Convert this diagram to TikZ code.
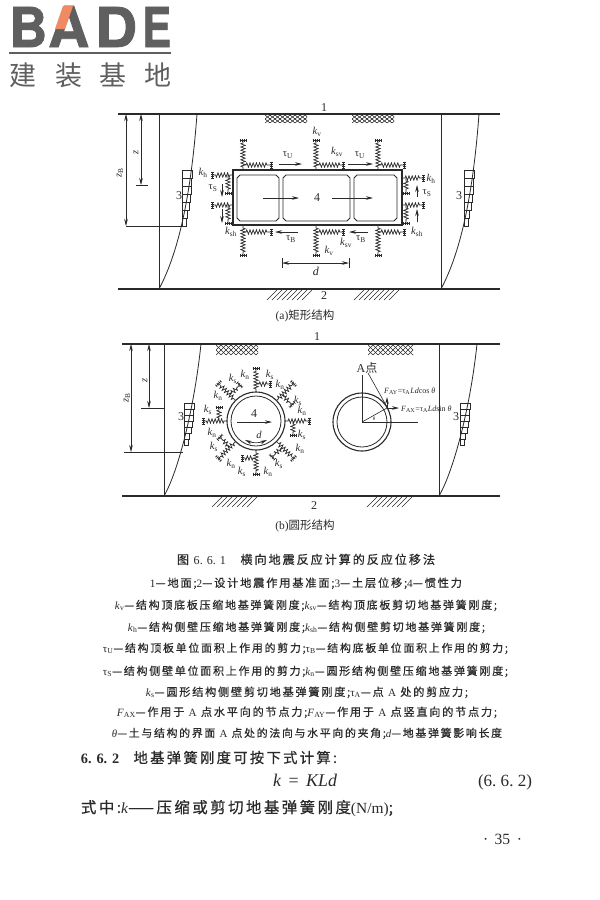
\documentclass[tikz,border=0pt]{standalone}
\usepackage{fontspec}
\usepackage{graphicx}
\setmainfont{Liberation Serif}
\newfontfamily\cjk[LetterSpace=16,RawFeature={embolden=0.6}]{Noto Sans CJK SC}
\newfontfamily\cjkplain{Noto Sans CJK SC}
\newfontfamily\logofont[FakeBold=1.5]{TeX Gyre Heros}
\usetikzlibrary{decorations.pathmorphing,arrows.meta,calc}
\newcommand\Lt[1]{{\rmfamily #1}}
\newcommand\Kk[1]{{\rmfamily\textit{k}\textsubscript{#1}}}
\newcommand\Tu[1]{{\rmfamily τ\textsubscript{#1}}}
\newcommand\It[1]{{\rmfamily\textit{#1}}}
\tikzset{
  ink/.style={draw=inkc,line width=.8pt},
  strong/.style={draw=inkc,line width=1.2pt},
  springline/.style={draw=inkc,line width=.7pt,decorate,decoration={zigzag,segment length=3.2pt,amplitude=2.2pt,pre length=3pt,post length=3pt}},
  barline/.style={draw=inkc,line width=.7pt},
  tickline/.style={draw=inkc,line width=3pt,dash pattern=on .6pt off 1.6pt},
  flow/.style={draw=inkc,line width=.6pt,-{Stealth[length=7pt,width=3.5pt]}},
  dim/.style={draw=inkc,line width=.6pt,{Stealth[length=7pt,width=3.5pt]}-{Stealth[length=7pt,width=3.5pt]}},
  lab/.style={inner sep=0pt,font=\fontsize{10.5}{11}\selectfont,text=inkc},
  num/.style={inner sep=0pt,font=\fontsize{12}{13}\selectfont,text=inkc},
  logoline/.style={draw=logoc,line width=2.5pt},
}
\definecolor{inkc}{HTML}{2A2A2A}
\definecolor{logoc}{HTML}{5F5F5F}
\definecolor{logoo}{HTML}{F08A63}
% spring: start x, start y, angle, length
\newcommand\Spr[4]{\begin{scope}[shift={(#1,#2)},rotate=#3]
  \draw[springline] (0,0) -- (#4,0);
  \draw[barline] (#4,-3.5) -- (#4,3.5);
  \draw[tickline] (#4,-3.5) -- (#4,3.5);
\end{scope}}
\newcommand\Room[4]{\draw[ink] (#1+3,#2) -- (#3-3,#2) -- (#3,#2+3) -- (#3,#4-3) -- (#3-3,#4) -- (#1+3,#4) -- (#1,#4-3) -- (#1,#2+3) -- cycle;}
\newcommand\Cross[4]{\begin{scope}\clip (#1,#2) rectangle (#3,#4);
  \foreach \q in {0,5,...,70}{\draw[inkc,line width=.55pt] (#1+\q-10,#4) -- (#1+\q,#2); \draw[inkc,line width=.55pt] (#1+\q-10,#2) -- (#1+\q,#4);}
\end{scope}}
\newcommand\Slash[3]{\foreach \q in {0,5,...,35}{\draw[inkc,line width=.6pt] (#1+\q,#3) -- (#1+\q+10,#2);}}
\newcommand\Soil[4]{\draw[ink] (#1,#2) .. controls (#1+16,#2-30) and (#1+31,#2-80) .. (#4,#3);}
\newcommand\Ln[6]{\node[anchor=base,inner sep=0pt,text=inkc] (#1) at ({(#3+#4)/2},#2) {\resizebox{\dimexpr #4pt-#3pt\relax}{!}{#6}};}
% staircase: x left, y top, row height
\newcommand\Stairs[3]{\foreach \ww [count=\i from 0] in {10,9.5,9,8,7,5.5,4}{
  \draw[inkc,line width=.6pt] (#1,#2+\i*#3) rectangle (#1+\ww,#2+\i*#3+#3);}}
\begin{document}
\begin{tikzpicture}[x=1pt,y=-1pt]
\useasboundingbox (0,0) rectangle (600,900);
\fill[white] (0,0) rectangle (600,900);
% ---- logo
\node[anchor=base west,inner sep=0pt,text=logoc] (logoB) at (9,47) {\resizebox{38pt}{40pt}{\logofont\bfseries B}};
\node[anchor=base west,inner sep=0pt,text=logoc] (logoA) at (48,47) {\resizebox{41pt}{41pt}{\logofont\bfseries A}};
\node[anchor=base west,inner sep=0pt,text=logoc] (logoD) at (95,47) {\resizebox{42pt}{40pt}{\logofont\bfseries D}};
\node[anchor=base west,inner sep=0pt,text=logoc] (logoE) at (142,47) {\resizebox{29pt}{40pt}{\logofont\bfseries E}};
\fill[logoo] (63,6) -- (73,6) -- (65,29) -- (55,29) -- cycle;
\draw[logoline] (9,53) -- (171,53);
\foreach \nm/\xx/\ch in {la/23/建,lb/69/装,lc/113/基,ld/158/地}{
  \node[inner sep=0pt,text=logoc] (\nm) at (\xx,75) {\fontsize{27}{27}\selectfont\cjkplain \ch};
}
% ---- figure a
\draw[strong] (118,114) -- (500,114);
\draw[strong] (118,289) -- (500,289);
\draw[ink] (159,114) -- (159,289);
\draw[ink] (441,114) -- (441,289);
\Soil{159}{289}{114}{197}
\Soil{441}{289}{114}{479}
\Stairs{182}{170}{8}
\Stairs{464}{170}{8}
\Cross{265}{115}{307}{123}
\Cross{352}{115}{394}{123}
\Slash{267}{290}{300}
\Slash{354}{290}{300}
\node[num] (a1) at (324,108) {1};
\node[num] (a2) at (324,296) {2};
\node[num] (a3l) at (179,196) {3};
\node[num] (a3r) at (459,196) {3};
\draw[dim] (141,114) -- (141,185);
\draw[ink,line width=.6pt] (136,185) -- (148,185);
\draw[dim] (126,114) -- (126,226);
\draw[ink,line width=.6pt] (126,226) -- (183,226);
\node[lab,rotate=90] (az) at (136,152) {\It{z}};
\node[lab,rotate=90] (azb) at (120,173) {\It{z}\textsubscript{B}};
\draw[draw=inkc,line width=1.2pt] (233,170) rectangle (402,225);
\Room{237}{175}{279}{221}
\Room{283}{175}{350}{221}
\Room{354}{175}{397}{221}
\foreach \xx/\ll in {243/28,316/27,378/26}{
  \Spr{\xx}{170}{90}{30}
  \Spr{\xx}{165}{0}{\ll}
  \Spr{\xx}{225}{-90}{30}
  \Spr{\xx}{232}{0}{\ll}
}
\Spr{233}{175}{180}{21}
\Spr{228}{175}{-90}{18}
\Spr{233}{205}{180}{21}
\Spr{228}{205}{-90}{18}
\Spr{402}{178}{0}{21}
\Spr{406}{178}{-90}{15}
\Spr{402}{205}{0}{21}
\Spr{406}{205}{-90}{18}
\draw[flow] (279,164) -- (302,164);
\draw[flow] (348,164) -- (373,164);
\draw[flow] (222,184) -- (222,197);
\draw[flow] (222,209) -- (222,223);
\draw[flow] (417,197) -- (417,185);
\draw[flow] (417,222) -- (417,209);
\draw[flow] (263,198) -- (299,198);
\draw[flow] (332,198) -- (373,198);
\draw[flow] (298,232) -- (275,232);
\draw[flow] (368,232) -- (349,232);
\node[num] (a4) at (317,198) {4};
\node[lab] (akv1) at (317,132) {\Kk{v}};
\node[lab] (aksv1) at (337,152) {\Kk{sv}};
\node[lab] (atu1) at (288,155) {\Tu{U}};
\node[lab] (atu2) at (360,155) {\Tu{U}};
\node[lab] (akh1) at (203,173) {\Kk{h}};
\node[lab] (ats1) at (213,188) {\Tu{S}};
\node[lab] (aksh1) at (231,232) {\Kk{sh}};
\node[lab] (akh2) at (431,179) {\Kk{h}};
\node[lab] (ats2) at (427,193) {\Tu{S}};
\node[lab] (aksh2) at (417,232) {\Kk{sh}};
\node[lab] (atb1) at (291,239) {\Tu{B}};
\node[lab] (atb2) at (361,239) {\Tu{B}};
\node[lab] (aksv2) at (346,243) {\Kk{sv}};
\node[lab] (akv2) at (329,251) {\Kk{v}};
\draw[dim] (282,263) -- (349,263);
\draw[ink,line width=.6pt] (282,258) -- (282,268);
\draw[ink,line width=.6pt] (349,258) -- (349,268);
\node[num] (ad) at (316,271) {\It{d}};
\node[inner sep=0pt,text=inkc] (acap) at (305,316) {\fontsize{11.5}{12}\selectfont (a)\cjkplain 矩形结构};
% ---- figure b
\draw[strong] (122,344) -- (500,344);
\draw[strong] (122,496) -- (500,496);
\draw[ink] (164,344) -- (164,496);
\draw[ink] (439,344) -- (439,496);
\draw[ink] (164,496) .. controls (178,472) and (194,410) .. (201,344);
\draw[ink] (439,496) .. controls (453,472) and (470,410) .. (477,344);
\Stairs{184}{403}{6}
\Stairs{460}{403}{6}
\Cross{216}{345}{258}{355}
\Cross{368}{345}{413}{355}
\Slash{212}{497}{507}
\Slash{367}{497}{507}
\node[num] (b1) at (317,337) {1};
\node[num] (b2) at (314,506) {2};
\node[num] (b3l) at (181,417) {3};
\node[num] (b3r) at (456,417) {3};
\draw[dim] (149,344) -- (149,408);
\draw[ink,line width=.6pt] (141,408) -- (164,408);
\draw[dim] (131,344) -- (131,452);
\draw[ink,line width=.6pt] (124,452) -- (183,452);
\node[lab,rotate=90] (bz) at (145,380) {\It{z}};
\node[lab,rotate=90] (bzb) at (127,398) {\It{z}\textsubscript{B}};
\draw[draw=inkc,line width=1.1pt] (256,421) circle[radius=29pt];
\draw[ink] (256,421) circle[radius=25pt];
\foreach \an in {0,45,...,315}{
  \begin{scope}[shift={(256,421)},rotate=\an]
    \Spr{29}{0}{0}{24}
    \Spr{37}{0}{-90}{14}
  \end{scope}
}
\draw[flow] (237,422) -- (272,422);
\node[num] (b4) at (254,414) {4};
\draw[dim] (245,440) .. controls (252,443) and (260,443) .. (267,440);
\node[lab] (bd) at (259,435) {\It{d}};
\foreach \nm/\xx/\yy/\tt in {a/245/375/n,b/270/375/s,c/233/379/s,d/218/396/n,e/208/410/s,f/212/433/n,g/214/447/s,h/231/464/n,i/242/472/s,j/268/472/n,k/279/464/s,l/300/449/n,m/302/435/s,o/302/411/n,p/298/401/s,q/280/385/n}{
  \node[lab] (bk\nm) at (\xx,\yy) {\Kk{\tt}};
}
\draw[draw=inkc,line width=1.1pt] (362,422) circle[radius=29pt];
\draw[ink] (362,422) circle[radius=25pt];
\draw[ink,line width=.6pt] (362,422) -- (362,375);
\draw[ink,line width=.6pt] (362,422) -- (418,422);
\draw[ink,line width=.6pt] (362,422) -- (387,408);
\draw[ink,line width=.6pt] (368,373) -- (387,407);
\draw[flow] (387,408) -- (387,397);
\draw[flow] (387,408) -- (399,408);
\node[num] (bA) at (367,368) {A\cjkplain 点};
\node[inner sep=0pt,text=inkc,anchor=west] (bfy) at (384,391) {\fontsize{8}{9}\selectfont \It{F}\textsubscript{AY}=τ\textsubscript{A}\It{Ld}cos \It{θ}};
\node[inner sep=0pt,text=inkc,anchor=west] (bfx) at (401,409) {\fontsize{8}{9}\selectfont \It{F}\textsubscript{AX}=τ\textsubscript{A}\It{Ld}sin \It{θ}};
\node[inner sep=0pt,text=inkc] (bth) at (374,419) {\fontsize{5}{6}\selectfont \It{θ}};
\node[inner sep=0pt,text=inkc] (bcap) at (305,526) {\fontsize{11.5}{12}\selectfont (b)\cjkplain 圆形结构};
% ---- text
\Ln{t0}{564}{177}{435}{}{\fontsize{11}{12}\selectfont\cjk 图 \Lt{6. 6. 1}\hspace{1.2em}横向地震反应计算的反应位移法}
\Ln{t1}{587}{150}{462}{}{\fontsize{10}{11}\selectfont\cjk \Lt{1}—地面;\Lt{2}—设计地震作用基准面;\Lt{3}—土层位移;\Lt{4}—惯性力}
\Ln{t2}{609}{115}{497}{}{\fontsize{10}{11}\selectfont\cjk \Kk{v}—结构顶底板压缩地基弹簧刚度;\Kk{sv}—结构顶底板剪切地基弹簧刚度;}
\Ln{t3}{631}{128}{485}{}{\fontsize{10}{11}\selectfont\cjk \Kk{h}—结构侧壁压缩地基弹簧刚度;\Kk{sh}—结构侧壁剪切地基弹簧刚度;}
\Ln{t4}{652}{103}{508}{}{\fontsize{10}{11}\selectfont\cjk \Tu{U}—结构顶板单位面积上作用的剪力;\Tu{B}—结构底板单位面积上作用的剪力;}
\Ln{t5}{675}{103}{508}{}{\fontsize{10}{11}\selectfont\cjk \Tu{S}—结构侧壁单位面积上作用的剪力;\Kk{n}—圆形结构侧壁压缩地基弹簧刚度;}
\Ln{t6}{696}{146}{468}{}{\fontsize{10}{11}\selectfont\cjk \Kk{s}—圆形结构侧壁剪切地基弹簧刚度;\Tu{A}—点 \Lt{A} 处的剪应力;}
\Ln{t7}{716}{117}{497}{}{\fontsize{10}{11}\selectfont\cjk {\rmfamily\textit{F}\textsubscript{AX}}—作用于 \Lt{A} 点水平向的节点力;{\rmfamily\textit{F}\textsubscript{AY}}—作用于 \Lt{A} 点竖直向的节点力;}
\Ln{t8}{737}{112}{502}{}{\fontsize{10}{11}\selectfont\cjk \It{θ}—土与结构的界面 \Lt{A} 点处的法向与水平向的夹角;\It{d}—地基弹簧影响长度}
\Ln{t9}{763}{81}{337}{}{\fontsize{12.5}{14}\selectfont\cjk \Lt{\bfseries 6. 6. 2}\hspace{1em}地基弹簧刚度可按下式计算:}
\Ln{t10}{786}{273}{337}{}{\fontsize{12}{14}\selectfont\rmfamily\textit{k}\ \,=\ \,\textit{KLd}}
\Ln{t11}{786}{478}{532}{}{\fontsize{12}{14}\selectfont\rmfamily (6.\ 6.\ 2)}
\Ln{t12}{813}{81}{393}{}{\fontsize{12.5}{14}\selectfont\cjk 式中:\It{k}——压缩或剪切地基弹簧刚度\Lt{(N/m)};}
\Ln{t13}{844}{483}{522}{}{\fontsize{10}{12}\selectfont\rmfamily ·\ \,35\ \,·}
\end{tikzpicture}
\end{document}
